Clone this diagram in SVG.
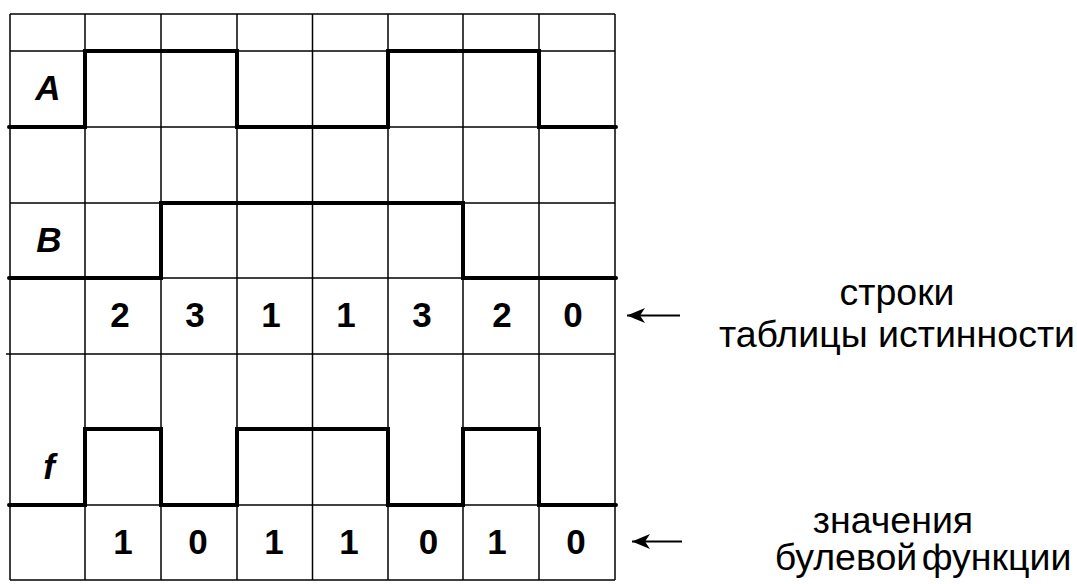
<svg xmlns="http://www.w3.org/2000/svg" width="1077" height="584" viewBox="0 0 1077 584">
<defs>
<style>
.grid line{stroke:#000;stroke-width:1.5}
.sig{fill:none;stroke:#000;stroke-width:4;stroke-linecap:round;stroke-linejoin:miter}
.lbl{font-family:"Liberation Sans",Arial,sans-serif;font-size:35px;font-weight:bold;font-style:italic;text-anchor:middle}
.num{font-family:"Liberation Sans",Arial,sans-serif;font-size:35px;font-weight:bold;text-anchor:middle}
.note{font-family:"Liberation Sans",Arial,sans-serif;font-size:37.5px;text-anchor:middle}
.arr{stroke:#000;stroke-width:2;fill:none}
</style>
<marker id="ah" viewBox="0 0 18 16" refX="18" refY="8" markerWidth="18" markerHeight="16" markerUnits="userSpaceOnUse" orient="auto">
<path d="M18,8 L0,0.5 L5,8 L0,15.5 Z" fill="#000"/>
</marker>
</defs>
<rect width="1077" height="584" fill="#fff"/>
<g id="grid" class="grid">
<line x1="10" y1="14" x2="10" y2="580"/>
<line x1="85" y1="14" x2="85" y2="580"/>
<line x1="161" y1="14" x2="161" y2="580"/>
<line x1="237" y1="14" x2="237" y2="580"/>
<line x1="312.5" y1="14" x2="312.5" y2="580"/>
<line x1="388" y1="14" x2="388" y2="580"/>
<line x1="463" y1="14" x2="463" y2="580"/>
<line x1="539" y1="14" x2="539" y2="580"/>
<line x1="615" y1="14" x2="615" y2="580"/>
<line x1="10" y1="14" x2="615" y2="14"/>
<line x1="10" y1="51" x2="615" y2="51"/>
<line x1="10" y1="127" x2="615" y2="127"/>
<line x1="10" y1="203" x2="615" y2="203"/>
<line x1="10" y1="278" x2="615" y2="278"/>
<line x1="6" y1="354" x2="615" y2="354"/>
<line x1="10" y1="505" x2="615" y2="505"/>
<line x1="10" y1="580" x2="615" y2="580"/>
</g>
<g id="signal-A">
<polyline class="sig" points="9,127 85,127 85,51 237,51 237,127 388,127 388,51 539,51 539,127 616,127"/>
<text class="lbl" x="48" y="100">A</text>
</g>
<g id="signal-B">
<polyline class="sig" points="9,278 161,278 161,203 463,203 463,278 616,278"/>
<text class="lbl" x="49" y="251.5">B</text>
</g>
<g id="signal-f">
<polyline class="sig" points="9,505 85,505 85,429 161,429 161,505 237,505 237,429 388,429 388,505 463,505 463,429 539,429 539,505 616,505"/>
<text class="lbl" x="49" y="479">f</text>
</g>
<g id="rows">
<text class="num" x="120" y="327">2</text>
<text class="num" x="195" y="327">3</text>
<text class="num" x="271" y="327">1</text>
<text class="num" x="346" y="327">1</text>
<text class="num" x="422" y="327">3</text>
<text class="num" x="502" y="327">2</text>
<text class="num" x="573" y="327">0</text>
</g>
<g id="values">
<text class="num" x="123" y="554">1</text>
<text class="num" x="198" y="554">0</text>
<text class="num" x="274" y="554">1</text>
<text class="num" x="349" y="554">1</text>
<text class="num" x="428.5" y="554">0</text>
<text class="num" x="497" y="554">1</text>
<text class="num" x="576" y="554">0</text>
</g>
<g id="connectors">
<line class="arr" x1="680" y1="315.5" x2="627" y2="315.5" marker-end="url(#ah)"/>
<line class="arr" x1="682" y1="541.5" x2="632" y2="541.5" marker-end="url(#ah)"/>
</g>
<g id="note-rows">
<text class="note" x="897" y="305">строки</text>
<text class="note" x="897" y="347">таблицы истинности</text>
</g>
<g id="note-values">
<text class="note" x="893" y="533">значения</text>
<text class="note" x="923" y="570" word-spacing="-6">булевой функции</text>
</g>
</svg>
